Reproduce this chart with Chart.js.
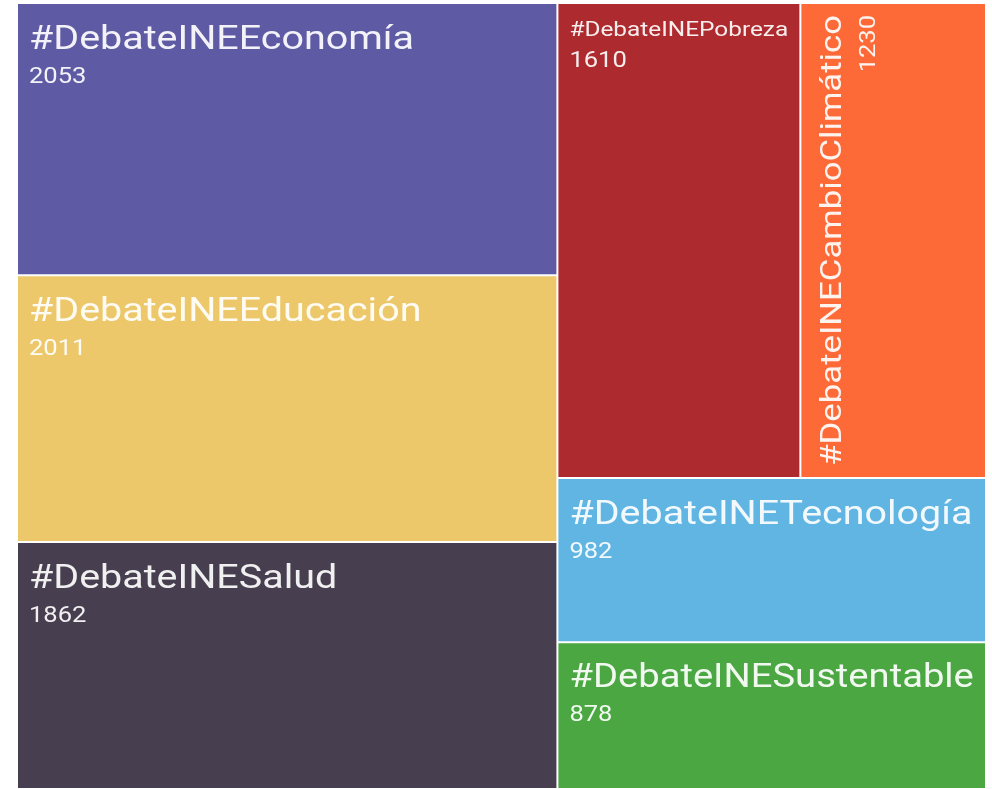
<!DOCTYPE html>
<html>
<head>
<meta charset="utf-8">
<script src="https://cdn.jsdelivr.net/npm/chart.js@4.4.1/dist/chart.umd.min.js"></script>
<style>
  html, body { margin: 0; padding: 0; background: #ffffff; }
  #wrap { width: 992px; height: 789px; position: relative; }
</style>
</head>
<body>
<div id="wrap"><canvas id="chart"></canvas></div>
<script>
// ---- data ----
const categories = [
  '#DebateINEEconomía',
  '#DebateINEEducación',
  '#DebateINESalud',
  '#DebateINEPobreza',
  '#DebateINECambioClimático',
  '#DebateINETecnología',
  '#DebateINESustentable'
];
const tweetCounts = [2053, 2011, 1862, 1610, 1230, 982, 878];
const tileColors = ['#5e5ba4', '#ecc86b', '#473e4f', '#ad2b2f', '#fd6a37', '#60b5e3', '#4aa741'];

// ---- squarified layout (rows along the short side, ratio measured on the long side) ----
function squarifyLayout(values, W, H) {
  const total = values.reduce((a, b) => a + b, 0);
  const k = W * H / total;
  const items = values.map((v, i) => ({ i, a: v * k })).sort((p, q) => q.a - p.a);
  const out = new Array(values.length);
  let rx = 0, ry = 0, rw = W, rh = H, n = 0;
  const worst = (row, len) => {
    let s = 0, mx = -Infinity, mn = Infinity;
    for (const r of row) { s += r.a; mx = Math.max(mx, r.a); mn = Math.min(mn, r.a); }
    const l2 = len * len, s2 = s * s;
    return Math.max(l2 * mx / s2, s2 / (l2 * mn));
  };
  while (n < items.length) {
    const vertical = rw >= rh;
    const longLen = Math.max(rw, rh);
    let row = [items[n]]; n++;
    while (n < items.length) {
      const cand = row.concat([items[n]]);
      if (worst(cand, longLen) <= worst(row, longLen)) { row = cand; n++; } else break;
    }
    const s = row.reduce((a, r) => a + r.a, 0);
    if (vertical) {
      const cw = s / rh; let yy = ry;
      for (const r of row) { const hh = r.a / cw; out[r.i] = { x0: rx, x1: rx + cw, y0: yy, y1: yy + hh }; yy += hh; }
      rx += cw; rw -= cw;
    } else {
      const ch = s / rw; let xx = rx;
      for (const r of row) { const ww = r.a / ch; out[r.i] = { x0: xx, x1: xx + ww, y0: ry, y1: ry + ch }; xx += ww; }
      ry += ch; rh -= ch;
    }
  }
  return out;
}

// ---- minimal treemap controller built on Chart.js bar elements ----
class TreemapLiteController extends Chart.DatasetController {
  update(mode) {
    const meta = this._cachedMeta;
    this.updateElements(meta.data, 0, meta.data.length, mode);
  }
  updateElements(rects, start, count, mode) {
    const meta = this._cachedMeta;
    const xs = meta.xScale, ys = meta.yScale;
    const values = this.getDataset().data;
    const W = Math.abs(xs.right - xs.left), H = Math.abs(ys.bottom - ys.top);
    const layout = squarifyLayout(values, W, H);
    for (let i = start; i < start + count; i++) {
      const L = layout[i];
      const left = xs.getPixelForValue(L.x0 / W), right = xs.getPixelForValue(L.x1 / W);
      const top = ys.getPixelForValue(L.y0 / H), bottom = ys.getPixelForValue(L.y1 / H);
      this.updateElement(rects[i], i, {
        x: (left + right) / 2, y: top, base: bottom,
        width: right - left, height: bottom - top,
        horizontal: false, inflateAmount: 0, borderSkipped: {}, enableBorderRadius: false,
        options: this.resolveDataElementOptions(i, mode)
      }, mode);
    }
  }
  draw() {
    super.draw();
    const ctx = this.chart.ctx;
    const meta = this._cachedMeta;
    const labels = this.chart.data.labels;
    const values = this.getDataset().data;
    const pad = 12, maxSize = 34, valueSize = 22, sx = 1.16;
    const family = 'Roboto, "Noto Sans", sans-serif';
    ctx.save();
    ctx.fillStyle = 'rgba(255,255,255,0.92)';
    ctx.textBaseline = 'alphabetic';
    const put = (text, ax, ay, align) => {
      ctx.save();
      ctx.translate(ax, ay);
      ctx.scale(sx, 1);
      ctx.textAlign = align;
      ctx.fillText(text, 0, 0);
      ctx.restore();
    };
    meta.data.forEach((el, i) => {
      const left = el.x - el.width / 2, top = el.y, w = el.width, h = el.base - el.y;
      const label = labels[i], value = String(values[i]);
      ctx.font = `${maxSize}px ${family}`;
      const wl = ctx.measureText(label).width * sx;
      let size = Math.min(maxSize, maxSize * (w - 2 * pad) / wl);
      let rotate = false;
      if (size < 16 && h > w) {
        rotate = true;
        size = Math.min(maxSize, maxSize * (h - 2 * pad) / wl);
      }
      ctx.save();
      if (rotate) {
        ctx.translate(left, top + h);
        ctx.rotate(-Math.PI / 2);
        ctx.font = `${size}px ${family}`;
        put(label, h - pad, pad + size * 0.95, 'right');
        ctx.font = `${valueSize}px ${family}`;
        put(value, h - pad, pad + 1.2 * size + 27, 'right');
      } else {
        ctx.font = `${size}px ${family}`;
        put(label, left + pad, top + pad + size, 'left');
        ctx.font = `${valueSize}px ${family}`;
        put(value, left + pad, top + pad + 1.2 * size + 27, 'left');
      }
      ctx.restore();
    });
    ctx.restore();
  }
}
TreemapLiteController.id = 'treemapLite';
TreemapLiteController.defaults = { datasetElementType: false, dataElementType: 'bar' };
TreemapLiteController.overrides = {
  scales: { x: { type: 'linear', display: false }, y: { type: 'linear', display: false } }
};
Chart.register(TreemapLiteController);

function build() {
  new Chart(document.getElementById('chart'), {
    type: 'treemapLite',
    data: {
      labels: categories,
      datasets: [{
        label: 'Tweets',
        data: tweetCounts,
        backgroundColor: tileColors,
        borderColor: '#ffffff',
        borderWidth: 1
      }]
    },
    options: {
      responsive: true,
      maintainAspectRatio: false,
      animation: false,
      events: [],
      layout: { padding: { left: 17, top: 3, right: 6, bottom: 0 } },
      scales: {
        x: { type: 'linear', min: 0, max: 1, display: false },
        y: { type: 'linear', min: 0, max: 1, reverse: true, display: false }
      },
      plugins: { legend: { display: false }, tooltip: { enabled: false } }
    }
  });
}
if (document.fonts && document.fonts.load) {
  Promise.all([document.fonts.load('34px Roboto'), document.fonts.load('22px Roboto')]).then(build, build);
} else {
  build();
}
</script>
</body>
</html>
